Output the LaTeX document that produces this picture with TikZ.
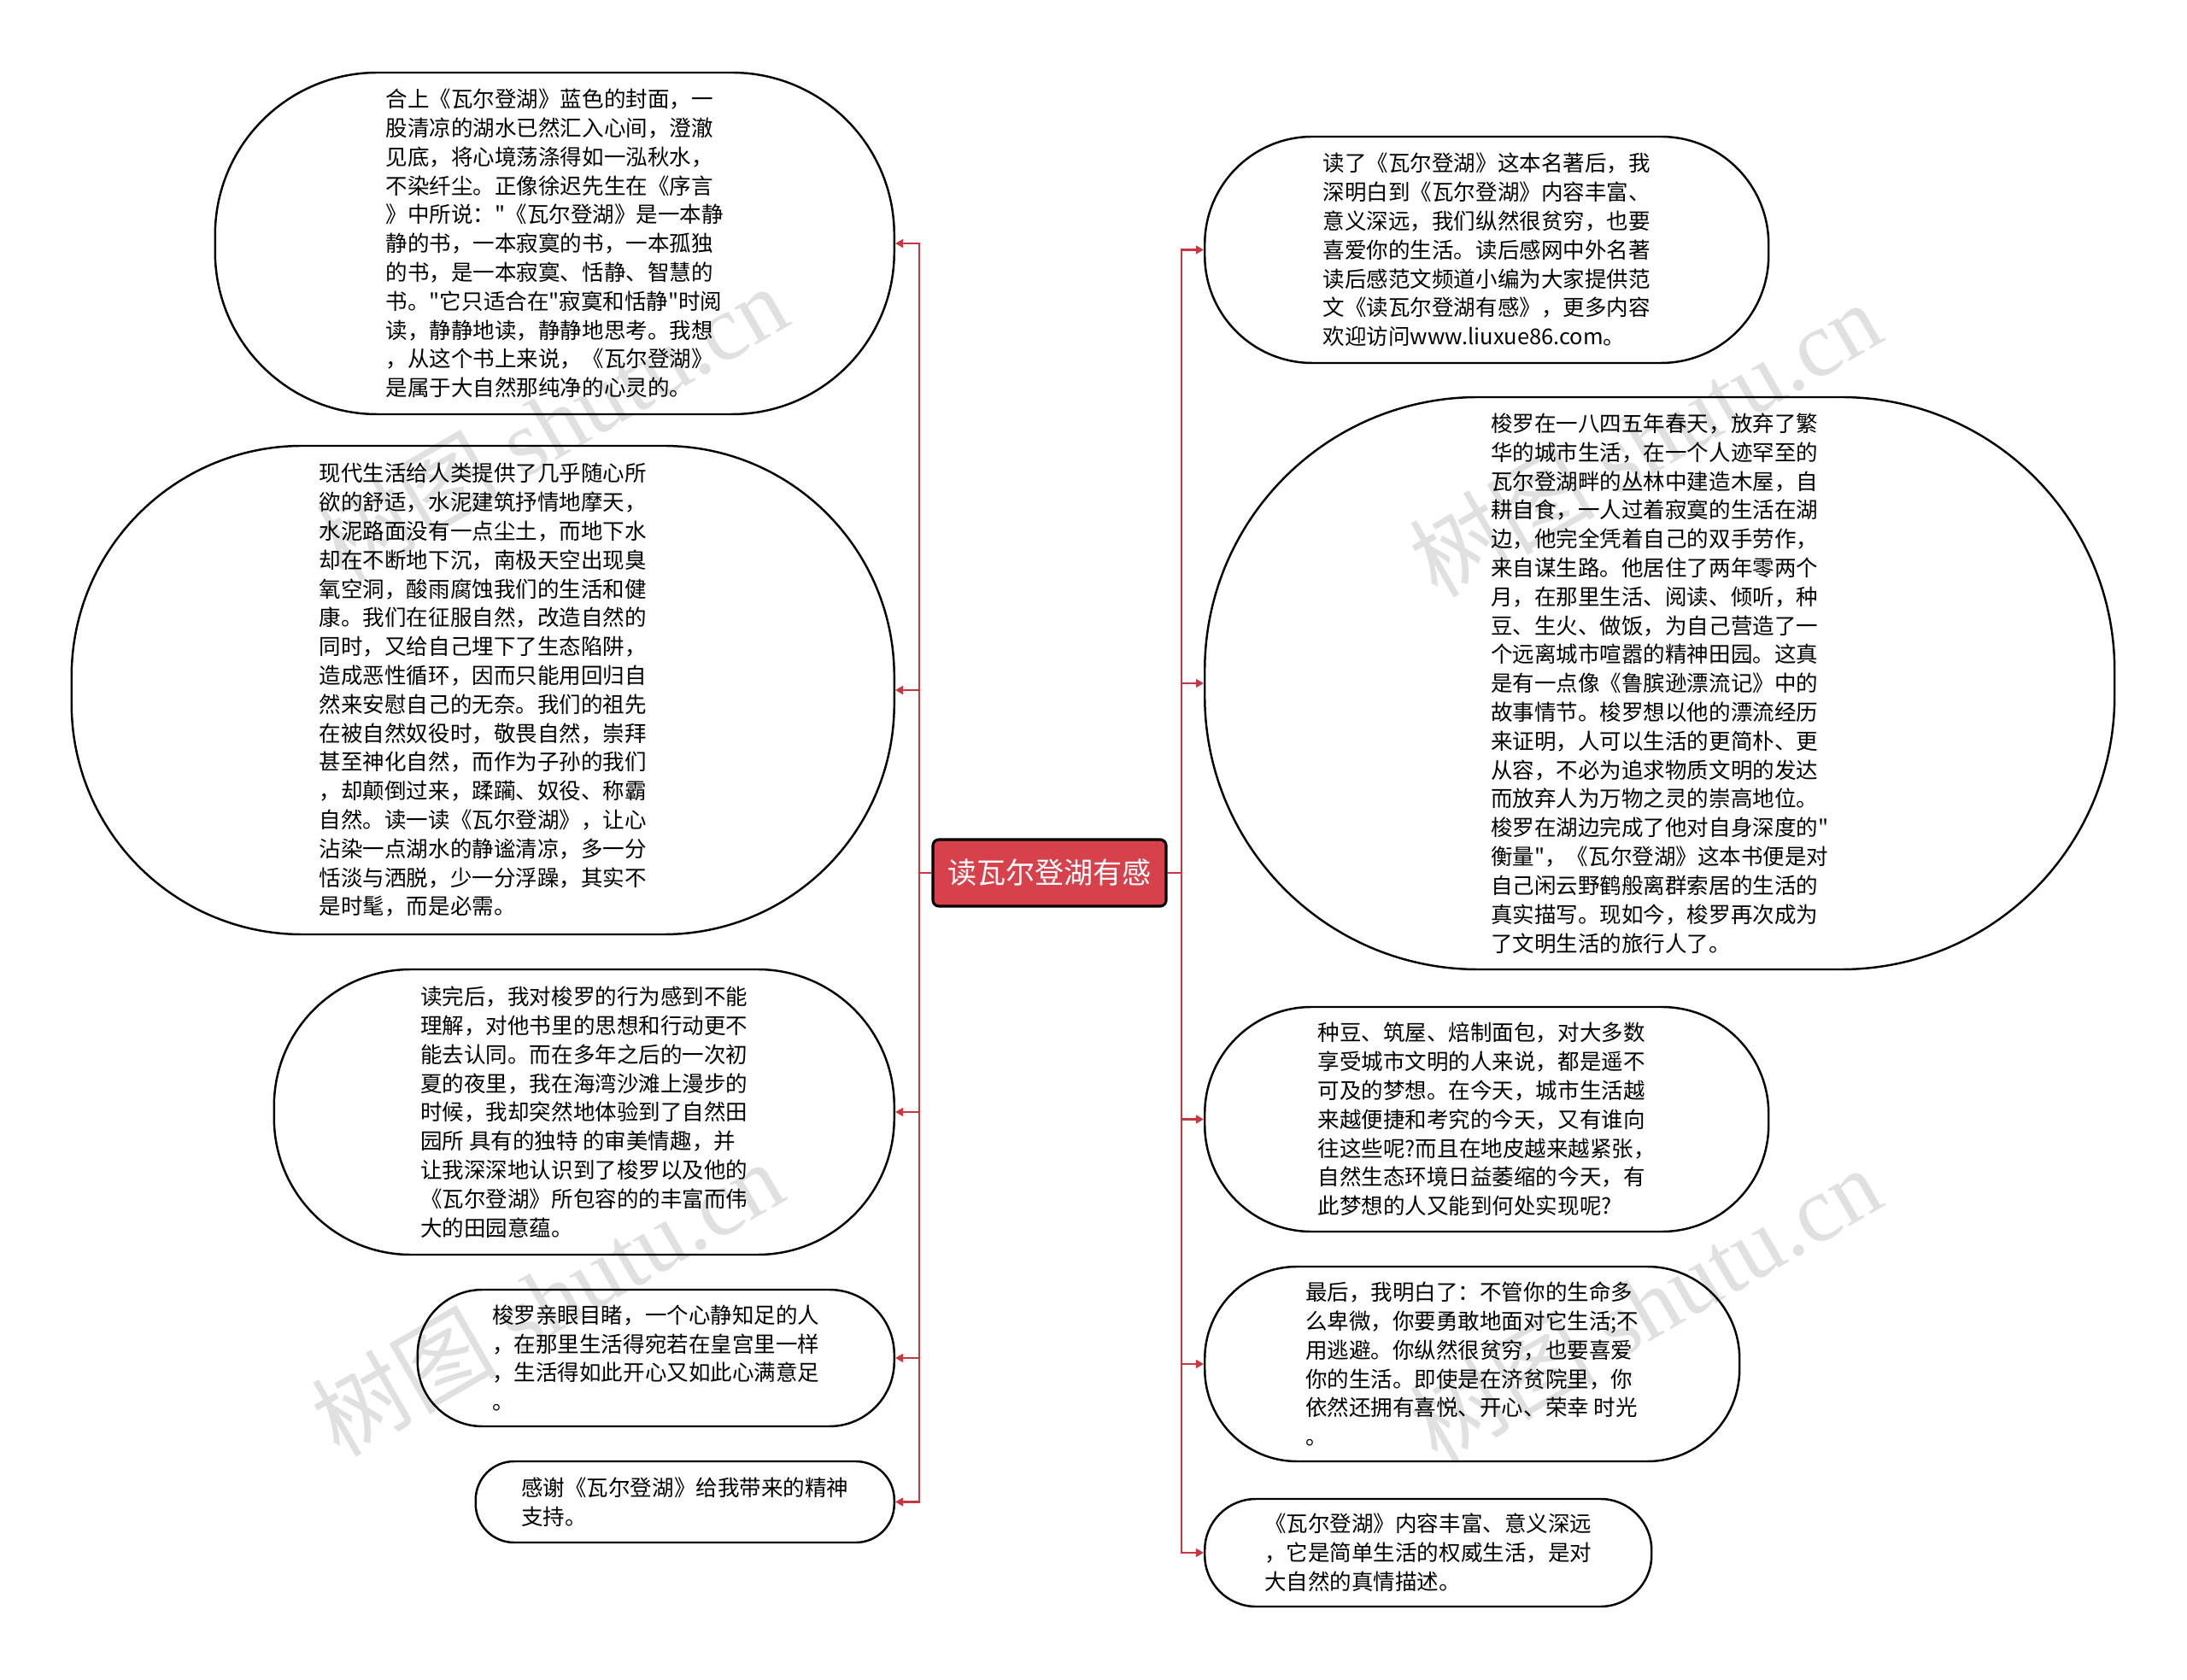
\documentclass[tikz,border=0pt]{standalone}
\usepackage{fontspec}
\setmainfont{Noto Sans CJK SC}[Ligatures=TeXOff]
\newfontfamily\wmserif{Liberation Serif}
\usepackage{xcolor}
\usetikzlibrary{arrows.meta,positioning}

\definecolor{rootred}{HTML}{D7414B}
\definecolor{linkred}{HTML}{C8363F}
\newcommand{\bodyfont}{\fontsize{7.26pt}{9.62pt}\selectfont}

\begin{document}
\begin{tikzpicture}[x=1cm,y=-1cm,
  bubble/.style={draw,line width=0.7pt,align=left,inner sep=0pt,font=\bodyfont},
  root/.style={draw=black,fill=rootred,line width=0.9pt,rounded corners=2pt,
               minimum width=2.73cm,minimum height=0.78cm,inner sep=0pt,
               text=white,font=\fontsize{9.7pt}{11pt}\selectfont},
  link/.style={draw=linkred,line width=0.6pt,-{Triangle[length=2.6pt,width=2.8pt]}},
  wmtext/.style={text=black!12,rotate=30,font=\fontsize{31pt}{34pt}\selectfont}]
  \useasboundingbox (0,0) rectangle (25.6,19.67);

  % watermarks (behind everything)
  \node[wmtext] (wm1) at (6.45,4.95) {树图 {\wmserif shutu.cn}};
  \node[wmtext] (wm2) at (6.40,15.20) {树图 {\wmserif shutu.cn}};
  \node[wmtext] (wm3) at (19.25,5.14) {树图 {\wmserif shutu.cn}};
  \node[wmtext] (wm4) at (19.25,15.27) {树图 {\wmserif shutu.cn}};

  \node[root] (root) at (12.285,10.22) {读瓦尔登湖有感};

  % left side
  \node[bubble,anchor=east,minimum width=7.95cm,minimum height=4.00cm,rounded corners=1.9cm]
    (l1) at (10.48,2.85) {合上《瓦尔登湖》蓝色的封面，一\\股清凉的湖水已然汇入心间，澄澈\\见底，将心境荡涤得如一泓秋水，\\不染纤尘。正像徐迟先生在《序言\\》中所说："《瓦尔登湖》是一本静\\静的书，一本寂寞的书，一本孤独\\的书，是一本寂寞、恬静、智慧的\\书。"它只适合在"寂寞和恬静"时阅\\读，静静地读，静静地思考。我想\\，从这个书上来说，《瓦尔登湖》\\是属于大自然那纯净的心灵的。};
  \node[bubble,anchor=east,minimum width=9.63cm,minimum height=5.72cm,rounded corners=2.7cm]
    (l2) at (10.48,8.08) {现代生活给人类提供了几乎随心所\\欲的舒适，水泥建筑抒情地摩天，\\水泥路面没有一点尘土，而地下水\\却在不断地下沉，南极天空出现臭\\氧空洞，酸雨腐蚀我们的生活和健\\康。我们在征服自然，改造自然的\\同时，又给自己埋下了生态陷阱，\\造成恶性循环，因而只能用回归自\\然来安慰自己的无奈。我们的祖先\\在被自然奴役时，敬畏自然，崇拜\\甚至神化自然，而作为子孙的我们\\，却颠倒过来，蹂躏、奴役、称霸\\自然。读一读《瓦尔登湖》，让心\\沾染一点湖水的静谧清凉，多一分\\恬淡与洒脱，少一分浮躁，其实不\\是时髦，而是必需。};
  \node[bubble,anchor=east,minimum width=7.26cm,minimum height=3.34cm,rounded corners=1.6cm]
    (l3) at (10.48,13.02) {读完后，我对梭罗的行为感到不能\\理解，对他书里的思想和行动更不\\能去认同。而在多年之后的一次初\\夏的夜里，我在海湾沙滩上漫步的\\时候，我却突然地体验到了自然田\\园所 具有的独特 的审美情趣，并\\让我深深地认识到了梭罗以及他的\\《瓦尔登湖》所包容的的丰富而伟\\大的田园意蕴。};
  \node[bubble,anchor=east,minimum width=5.58cm,minimum height=1.60cm,rounded corners=0.76cm]
    (l4) at (10.48,15.90) {梭罗亲眼目睹，一个心静知足的人\\，在那里生活得宛若在皇宫里一样\\，生活得如此开心又如此心满意足\\。};
  \node[bubble,anchor=east,minimum width=4.90cm,minimum height=0.95cm,rounded corners=0.45cm]
    (l5) at (10.48,17.585) {感谢《瓦尔登湖》给我带来的精神\\支持。};

  % right side
  \node[bubble,anchor=west,minimum width=6.60cm,minimum height=2.65cm,rounded corners=1.26cm]
    (r1) at (14.09,2.925) {读了《瓦尔登湖》这本名著后，我\\深明白到《瓦尔登湖》内容丰富、\\意义深远，我们纵然很贫穷，也要\\喜爱你的生活。读后感网中外名著\\读后感范文频道小编为大家提供范\\文《读瓦尔登湖有感》，更多内容\\欢迎访问www.liuxue86.com。};
  \node[bubble,anchor=west,minimum width=10.65cm,minimum height=6.70cm,rounded corners=3.2cm]
    (r2) at (14.09,8.00) {梭罗在一八四五年春天，放弃了繁\\华的城市生活，在一个人迹罕至的\\瓦尔登湖畔的丛林中建造木屋，自\\耕自食，一人过着寂寞的生活在湖\\边，他完全凭着自己的双手劳作，\\来自谋生路。他居住了两年零两个\\月，在那里生活、阅读、倾听，种\\豆、生火、做饭，为自己营造了一\\个远离城市喧嚣的精神田园。这真\\是有一点像《鲁膑逊漂流记》中的\\故事情节。梭罗想以他的漂流经历\\来证明，人可以生活的更简朴、更\\从容，不必为追求物质文明的发达\\而放弃人为万物之灵的崇高地位。\\梭罗在湖边完成了他对自身深度的"\\衡量"，《瓦尔登湖》这本书便是对\\自己闲云野鹤般离群索居的生活的\\真实描写。现如今，梭罗再次成为\\了文明生活的旅行人了。};
  \node[bubble,anchor=west,minimum width=6.60cm,minimum height=2.63cm,rounded corners=1.25cm]
    (r3) at (14.09,13.105) {种豆、筑屋、焙制面包，对大多数\\享受城市文明的人来说，都是遥不\\可及的梦想。在今天，城市生活越\\来越便捷和考究的今天，又有谁向\\往这些呢?而且在地皮越来越紧张，\\自然生态环境日益萎缩的今天，有\\此梦想的人又能到何处实现呢?};
  \node[bubble,anchor=west,minimum width=6.26cm,minimum height=2.28cm,rounded corners=1.08cm]
    (r4) at (14.09,15.97) {最后，我明白了：不管你的生命多\\么卑微，你要勇敢地面对它生活;不\\用逃避。你纵然很贫穷，也要喜爱\\你的生活。即使是在济贫院里，你\\依然还拥有喜悦、开心、荣幸 时光\\。};
  \node[bubble,anchor=west,minimum width=5.23cm,minimum height=1.26cm,rounded corners=0.6cm]
    (r5) at (14.09,18.18) {《瓦尔登湖》内容丰富、意义深远\\，它是简单生活的权威生活，是对\\大自然的真情描述。};

  % connectors
  \foreach \n in {l1,l2,l3,l4,l5}
    \draw[link] (root.west) -- ++(-0.14,0) |- (\n.east);
  \foreach \n in {r1,r2,r3,r4,r5}
    \draw[link] (root.east) -- ++(0.16,0) |- (\n.west);
\end{tikzpicture}
\end{document}
